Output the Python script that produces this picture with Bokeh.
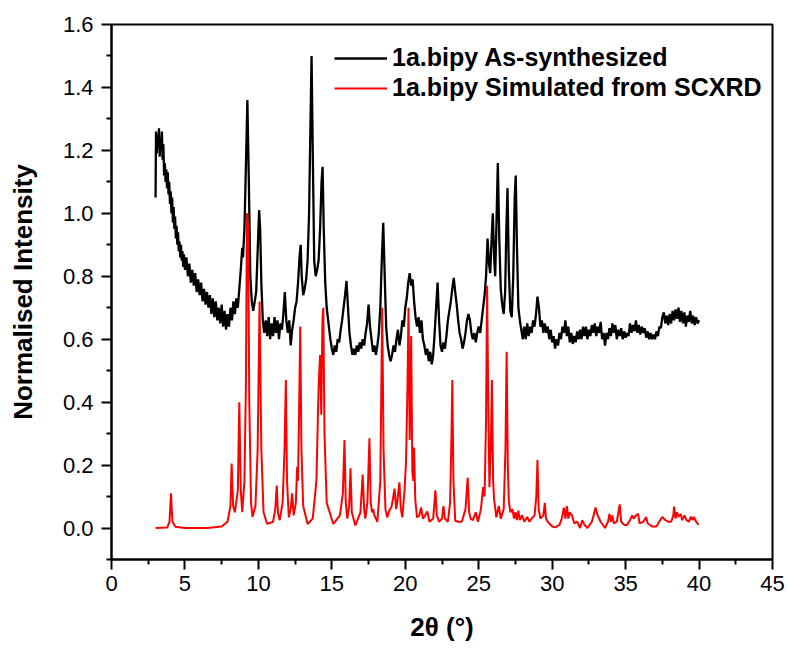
from bokeh.plotting import figure
from bokeh.models import Range1d, Legend, LegendItem, NumeralTickFormatter, FixedTicker
from bokeh.embed import file_html
from bokeh.resources import INLINE

# ---- Data: experimental PXRD (black) ----
exp_x = [3.0, 3.03, 3.08, 3.13, 3.18, 3.23, 3.28, 3.33, 3.38, 3.43, 3.48, 3.53, 3.58, 3.63, 3.68, 3.73, 3.78, 3.83, 3.88, 3.93,
         3.98, 4.03, 4.08, 4.13, 4.18, 4.23, 4.28, 4.33, 4.38, 4.43, 4.48, 4.53, 4.58, 4.63, 4.68, 4.73, 4.78, 4.83, 4.88, 4.93,
         5.0, 5.1, 5.2, 5.3, 5.4, 5.5, 5.6, 5.7, 5.8, 5.9, 6.0, 6.1, 6.2, 6.3, 6.4, 6.5, 6.6, 6.7, 6.8, 6.9,
         7.0, 7.1, 7.2, 7.3, 7.4, 7.5, 7.6, 7.7, 7.8, 7.9, 8.0, 8.1, 8.2, 8.3, 8.4, 8.5, 8.6, 8.7, 8.8, 8.9,
         8.95, 9.05, 9.15, 9.25, 9.35, 9.45, 9.55, 9.65, 9.75, 9.85, 9.95, 10.05, 10.12, 10.2, 10.3, 10.4, 10.5, 10.6, 10.7, 10.8,
         10.9, 11.0, 11.1, 11.2, 11.3, 11.4, 11.5, 11.6, 11.7, 11.8, 11.9, 12.0, 12.1, 12.2, 12.3, 12.4, 12.5, 12.6, 12.7, 12.8,
         12.88, 12.95, 13.05, 13.15, 13.25, 13.35, 13.45, 13.55, 13.62, 13.7, 13.8, 13.9, 14.0, 14.1, 14.2, 14.3, 14.37, 14.45, 14.55, 14.65,
         14.8, 14.9, 15.0, 15.1, 15.2, 15.3, 15.4, 15.5, 15.6, 15.7, 15.8, 15.9, 16.0, 16.1, 16.2, 16.3, 16.4, 16.5, 16.6, 16.7,
         16.8, 16.9, 17.0, 17.1, 17.2, 17.3, 17.4, 17.5, 17.6, 17.7, 17.8, 17.9, 18.0, 18.1, 18.2, 18.3, 18.4, 18.5, 18.6, 18.7,
         18.8, 18.9, 19.0, 19.1, 19.2, 19.3, 19.4, 19.5, 19.6, 19.7, 19.8, 19.9, 20.0, 20.1, 20.2, 20.3, 20.4, 20.5, 20.6, 20.7,
         20.8, 20.9, 21.0, 21.1, 21.2, 21.3, 21.4, 21.5, 21.6, 21.7, 21.8, 21.9, 22.0, 22.1, 22.2, 22.3, 22.4, 22.5, 22.6, 22.7,
         22.8, 22.9, 23.0, 23.1, 23.2, 23.3, 23.4, 23.5, 23.6, 23.7, 23.8, 23.9, 24.0, 24.1, 24.2, 24.3, 24.4, 24.5, 24.6, 24.7,
         24.8, 24.9, 25.0, 25.1, 25.2, 25.3, 25.4, 25.5, 25.6, 25.7, 25.78, 25.88, 25.96, 26.05, 26.12, 26.2, 26.3, 26.4, 26.5, 26.6,
         26.7, 26.8, 26.88, 26.96, 27.05, 27.15, 27.25, 27.35, 27.45, 27.52, 27.6, 27.7, 27.8, 27.9, 28.0, 28.1, 28.2, 28.3, 28.4, 28.5,
         28.6, 28.7, 28.8, 28.9, 29.0, 29.1, 29.2, 29.3, 29.4, 29.5, 29.6, 29.7, 29.8, 29.9, 30.0, 30.1, 30.2, 30.3, 30.4, 30.5,
         30.6, 30.7, 30.8, 30.9, 31.0, 31.1, 31.2, 31.3, 31.4, 31.5, 31.6, 31.7, 31.8, 31.9, 32.0, 32.1, 32.2, 32.3, 32.4, 32.5,
         32.6, 32.7, 32.8, 32.9, 33.0, 33.1, 33.2, 33.3, 33.4, 33.5, 33.6, 33.7, 33.8, 33.9, 34.0, 34.1, 34.2, 34.3, 34.4, 34.5,
         34.6, 34.7, 34.8, 34.9, 35.0, 35.1, 35.2, 35.3, 35.4, 35.5, 35.6, 35.7, 35.8, 35.9, 36.0, 36.1, 36.2, 36.3, 36.4, 36.5,
         36.6, 36.7, 36.8, 36.9, 37.0, 37.1, 37.2, 37.3, 37.4, 37.5, 37.6, 37.7, 37.8, 37.9, 38.0, 38.1, 38.2, 38.3, 38.4, 38.5,
         38.6, 38.7, 38.8, 38.9, 39.0, 39.1, 39.2, 39.3, 39.4, 39.5, 39.6, 39.7, 39.8, 39.9, 40.0]
exp_y = [1.05, 1.26, 1.19, 1.25, 1.21, 1.27, 1.18, 1.24, 1.20, 1.26, 1.17, 1.22, 1.12, 1.16, 1.10, 1.14, 1.08, 1.13, 1.06, 1.10,
         1.03, 1.07, 1.00, 1.05, 0.97, 1.02, 0.95, 0.99, 0.92, 0.96, 0.90, 0.94, 0.88, 0.91, 0.86, 0.90, 0.85, 0.88, 0.83, 0.87,
         0.82, 0.86, 0.80, 0.84, 0.78, 0.82, 0.77, 0.81, 0.75, 0.79, 0.74, 0.78, 0.72, 0.76, 0.71, 0.75, 0.70, 0.74, 0.68, 0.73,
         0.67, 0.72, 0.66, 0.70, 0.65, 0.71, 0.64, 0.69, 0.63, 0.68, 0.64, 0.70, 0.66, 0.72, 0.68, 0.73, 0.70, 0.76, 0.82, 0.89,
         0.86, 0.95, 1.15, 1.36, 1.10, 0.80, 0.72, 0.69, 0.72, 0.75, 0.88, 1.01, 0.95, 0.78, 0.66, 0.62, 0.66, 0.61, 0.67, 0.60,
         0.65, 0.61, 0.67, 0.62, 0.66, 0.60, 0.65, 0.63, 0.68, 0.75, 0.66, 0.62, 0.66, 0.58, 0.63, 0.66, 0.70, 0.72, 0.78, 0.86,
         0.90, 0.80, 0.74, 0.76, 0.79, 0.85, 1.00, 1.30, 1.50, 1.20, 0.85, 0.80, 0.82, 0.85, 0.95, 1.10, 1.148, 0.95, 0.78, 0.70,
         0.64, 0.60, 0.57, 0.55, 0.58, 0.56, 0.60, 0.59, 0.63, 0.66, 0.70, 0.74, 0.785, 0.70, 0.62, 0.58, 0.55, 0.57, 0.55, 0.58,
         0.56, 0.59, 0.57, 0.60, 0.58, 0.62, 0.65, 0.71, 0.64, 0.60, 0.56, 0.58, 0.55, 0.58, 0.62, 0.70, 0.85, 0.97, 0.80, 0.64,
         0.58, 0.55, 0.53, 0.55, 0.58, 0.56, 0.60, 0.63, 0.58, 0.61, 0.66, 0.64, 0.70, 0.73, 0.78, 0.81, 0.77, 0.79, 0.72, 0.67,
         0.64, 0.67, 0.62, 0.66, 0.60, 0.58, 0.55, 0.57, 0.53, 0.56, 0.52, 0.55, 0.62, 0.70, 0.78, 0.66, 0.58, 0.56, 0.59, 0.57,
         0.61, 0.66, 0.69, 0.72, 0.76, 0.795, 0.75, 0.71, 0.66, 0.62, 0.60, 0.57, 0.59, 0.62, 0.66, 0.68, 0.66, 0.62, 0.60, 0.62,
         0.59, 0.62, 0.64, 0.62, 0.66, 0.70, 0.74, 0.80, 0.92, 0.84, 0.81, 0.92, 1.00, 0.86, 0.80, 0.95, 1.16, 0.92, 0.76, 0.71,
         0.68, 0.75, 0.95, 1.08, 0.82, 0.69, 0.67, 0.80, 1.05, 1.12, 0.90, 0.70, 0.66, 0.63, 0.60, 0.64, 0.60, 0.65, 0.61, 0.64,
         0.62, 0.66, 0.64, 0.68, 0.735, 0.70, 0.64, 0.66, 0.62, 0.65, 0.62, 0.64, 0.60, 0.63, 0.59, 0.61, 0.57, 0.60, 0.58, 0.62,
         0.60, 0.64, 0.62, 0.66, 0.61, 0.64, 0.59, 0.62, 0.585, 0.61, 0.59, 0.625, 0.60, 0.63, 0.60, 0.64, 0.61, 0.64, 0.60, 0.63,
         0.61, 0.645, 0.62, 0.65, 0.61, 0.64, 0.62, 0.655, 0.60, 0.62, 0.58, 0.62, 0.60, 0.635, 0.61, 0.65, 0.62, 0.645, 0.60, 0.63,
         0.61, 0.635, 0.60, 0.625, 0.605, 0.62, 0.61, 0.65, 0.62, 0.645, 0.625, 0.66, 0.62, 0.645, 0.615, 0.64, 0.62, 0.635, 0.605, 0.625,
         0.60, 0.62, 0.60, 0.615, 0.60, 0.625, 0.61, 0.64, 0.635, 0.67, 0.685, 0.65, 0.675, 0.645, 0.68, 0.65, 0.69, 0.66, 0.695, 0.665,
         0.70, 0.655, 0.69, 0.65, 0.685, 0.64, 0.675, 0.655, 0.69, 0.65, 0.675, 0.645, 0.67, 0.65, 0.66]

# ---- Data: simulated pattern from SCXRD (red) ----
sim_x = [3.0, 3.8, 3.95, 4.05, 4.15, 4.35, 5.0, 6.5, 7.5, 7.9, 8.1, 8.18, 8.28, 8.4, 8.6, 8.7, 8.8, 8.9, 9.05, 9.15,
         9.22, 9.3, 9.38, 9.5, 9.6, 9.8, 9.95, 10.08, 10.2, 10.35, 10.6, 11.0, 11.15, 11.25, 11.33, 11.45, 11.65, 11.78, 11.87, 11.95,
         12.07, 12.2, 12.3, 12.4, 12.55, 12.64, 12.7, 12.78, 12.85, 12.93, 13.05, 13.35, 13.7, 13.95, 14.1, 14.2, 14.28, 14.36, 14.42, 14.5,
         14.65, 15.1, 15.55, 15.75, 15.86, 15.95, 16.05, 16.18, 16.27, 16.36, 16.6, 16.95, 17.1, 17.2, 17.28, 17.42, 17.56, 17.65, 17.74, 17.82,
         17.9, 18.1, 18.3, 18.43, 18.52, 18.65, 18.77, 18.95, 19.05, 19.15, 19.27, 19.38, 19.45, 19.6, 19.7, 19.8, 19.95, 20.05, 20.15, 20.22,
         20.3, 20.4, 20.48, 20.55, 20.6, 20.68, 20.8, 20.95, 21.08, 21.2, 21.35, 21.5, 21.65, 21.9, 22.05, 22.15, 22.3, 22.5, 22.6, 22.7,
         22.9, 23.05, 23.15, 23.2, 23.28, 23.4, 23.6, 23.85, 24.1, 24.25, 24.35, 24.45, 24.6, 24.8, 24.95, 25.15, 25.3, 25.4, 25.5, 25.57,
         25.65, 25.73, 25.82, 25.9, 25.98, 26.05, 26.2, 26.37, 26.5, 26.7, 26.82, 26.9, 26.98, 27.05, 27.15, 27.3, 27.4, 27.5, 27.6, 27.7,
         27.8, 27.95, 28.1, 28.3, 28.45, 28.6, 28.8, 28.92, 29.0, 29.08, 29.2, 29.4, 29.5, 29.58, 29.7, 30.0, 30.2, 30.5, 30.65, 30.8,
         30.9, 31.0, 31.1, 31.2, 31.35, 31.5, 31.7, 31.9, 32.05, 32.2, 32.4, 32.7, 32.85, 32.95, 33.1, 33.3, 33.6, 33.8, 33.9, 34.0,
         34.1, 34.2, 34.4, 34.6, 34.7, 34.9, 35.1, 35.3, 35.45, 35.55, 35.7, 35.85, 35.95, 36.2, 36.4, 36.5, 36.8, 37.1, 37.35, 37.5,
         37.7, 37.9, 38.1, 38.25, 38.3, 38.4, 38.5, 38.6, 38.75, 38.85, 39.0, 39.15, 39.3, 39.45, 39.55, 39.65, 39.8, 39.97]
sim_y = [0.0, 0.002, 0.02, 0.11, 0.02, 0.004, 0.0, 0.0, 0.005, 0.02, 0.07, 0.205, 0.07, 0.05, 0.12, 0.40, 0.12, 0.05, 0.15, 0.45,
         1.0, 0.95, 0.40, 0.08, 0.035, 0.07, 0.25, 0.72, 0.25, 0.05, 0.013, 0.02, 0.06, 0.135, 0.05, 0.025, 0.08, 0.25, 0.47, 0.15,
         0.034, 0.06, 0.11, 0.04, 0.08, 0.195, 0.15, 0.40, 0.64, 0.25, 0.07, 0.013, 0.03, 0.15, 0.45, 0.55, 0.36, 0.66, 0.70, 0.30,
         0.08, 0.013, 0.04, 0.11, 0.28, 0.08, 0.03, 0.07, 0.19, 0.05, 0.008, 0.05, 0.17, 0.06, 0.03, 0.08, 0.285, 0.08, 0.05, 0.06,
         0.04, 0.02, 0.15, 0.70, 0.25, 0.06, 0.034, 0.06, 0.065, 0.09, 0.125, 0.06, 0.08, 0.145, 0.06, 0.034, 0.12, 0.21, 0.45, 0.70,
         0.28, 0.61, 0.18, 0.15, 0.256, 0.09, 0.034, 0.04, 0.065, 0.03, 0.04, 0.053, 0.02, 0.03, 0.12, 0.04, 0.02, 0.03, 0.07, 0.03,
         0.02, 0.08, 0.30, 0.47, 0.15, 0.023, 0.02, 0.02, 0.06, 0.16, 0.05, 0.03, 0.025, 0.05, 0.02, 0.06, 0.13, 0.10, 0.35, 0.77,
         0.40, 0.13, 0.25, 0.47, 0.15, 0.09, 0.034, 0.07, 0.03, 0.06, 0.25, 0.56, 0.20, 0.087, 0.05, 0.06, 0.03, 0.05, 0.025, 0.055,
         0.025, 0.04, 0.02, 0.035, 0.02, 0.03, 0.04, 0.10, 0.216, 0.06, 0.03, 0.04, 0.08, 0.03, 0.02, 0.005, 0.002, 0.01, 0.03, 0.065,
         0.03, 0.07, 0.03, 0.05, 0.04, 0.015, 0.02, 0.0, 0.025, 0.01, 0.0, 0.02, 0.045, 0.065, 0.04, 0.02, 0.0, 0.02, 0.045, 0.02,
         0.04, 0.015, 0.02, 0.075, 0.02, 0.01, 0.01, 0.025, 0.04, 0.03, 0.04, 0.045, 0.015, 0.02, 0.035, 0.015, 0.005, 0.005, 0.025, 0.035,
         0.025, 0.02, 0.02, 0.04, 0.068, 0.03, 0.05, 0.035, 0.045, 0.025, 0.04, 0.025, 0.02, 0.036, 0.025, 0.035, 0.02, 0.01]

x_ticks = [0, 5, 10, 15, 20, 25, 30, 35, 40, 45]
y_ticks = [0.0, 0.2, 0.4, 0.6, 0.8, 1.0, 1.2, 1.4, 1.6]
series_labels = ["1a.bipy As-synthesized", "1a.bipy Simulated from SCXRD"]
x_title = "2θ (°)"
y_title = "Normalised Intensity"

FONT = "Liberation Sans"

p = figure(width=788, height=648, output_backend="svg", toolbar_location=None,
           x_range=Range1d(0, 45), y_range=Range1d(-0.1, 1.6),
           min_border_left=111, min_border_right=16, min_border_top=24, min_border_bottom=89)
p.grid.visible = False
p.outline_line_color = "black"
p.outline_line_width = 2

r_exp = p.line(exp_x, exp_y, line_color="black", line_width=2.3)
r_sim = p.line(sim_x, sim_y, line_color="#ff0000", line_width=2)

for ax in (p.xaxis[0], p.yaxis[0]):
    ax.axis_line_width = 2
    ax.major_tick_line_width = 2
    ax.minor_tick_line_width = 2
    ax.major_tick_in = 0
    ax.major_tick_out = 10
    ax.minor_tick_in = 0
    ax.minor_tick_out = 5
    ax.major_label_text_font = FONT
    ax.major_label_text_font_size = "22px"
    ax.major_label_text_color = "black"
    ax.axis_label_text_font = FONT
    ax.axis_label_text_font_size = "26px"
    ax.axis_label_text_font_style = "bold"
    ax.axis_label_text_color = "black"

p.xaxis.ticker = FixedTicker(ticks=x_ticks, minor_ticks=[v + 2.5 for v in x_ticks[:-1]])
p.yaxis.ticker = FixedTicker(ticks=y_ticks, minor_ticks=[-0.1] + [v + 0.1 for v in y_ticks[:-1]])
p.yaxis.formatter = NumeralTickFormatter(format="0.0")
p.xaxis.axis_label = x_title
p.yaxis.axis_label = y_title
p.xaxis.major_label_standoff = 6
p.yaxis.major_label_standoff = 8
p.xaxis.axis_label_standoff = 18
p.yaxis.axis_label_standoff = 22

legend = Legend(items=[LegendItem(label=series_labels[0], renderers=[r_exp]),
                       LegendItem(label=series_labels[1], renderers=[r_sim])],
                location=(223, 457), padding=0, margin=0, spacing=1,
                glyph_width=53, glyph_height=20, label_height=20, label_standoff=5,
                label_text_font=FONT, label_text_font_size="25px", label_text_font_style="bold",
                label_text_color="black",
                border_line_alpha=0, background_fill_alpha=0)
p.add_layout(legend)

open("out.html", "w").write(file_html(p, INLINE))
